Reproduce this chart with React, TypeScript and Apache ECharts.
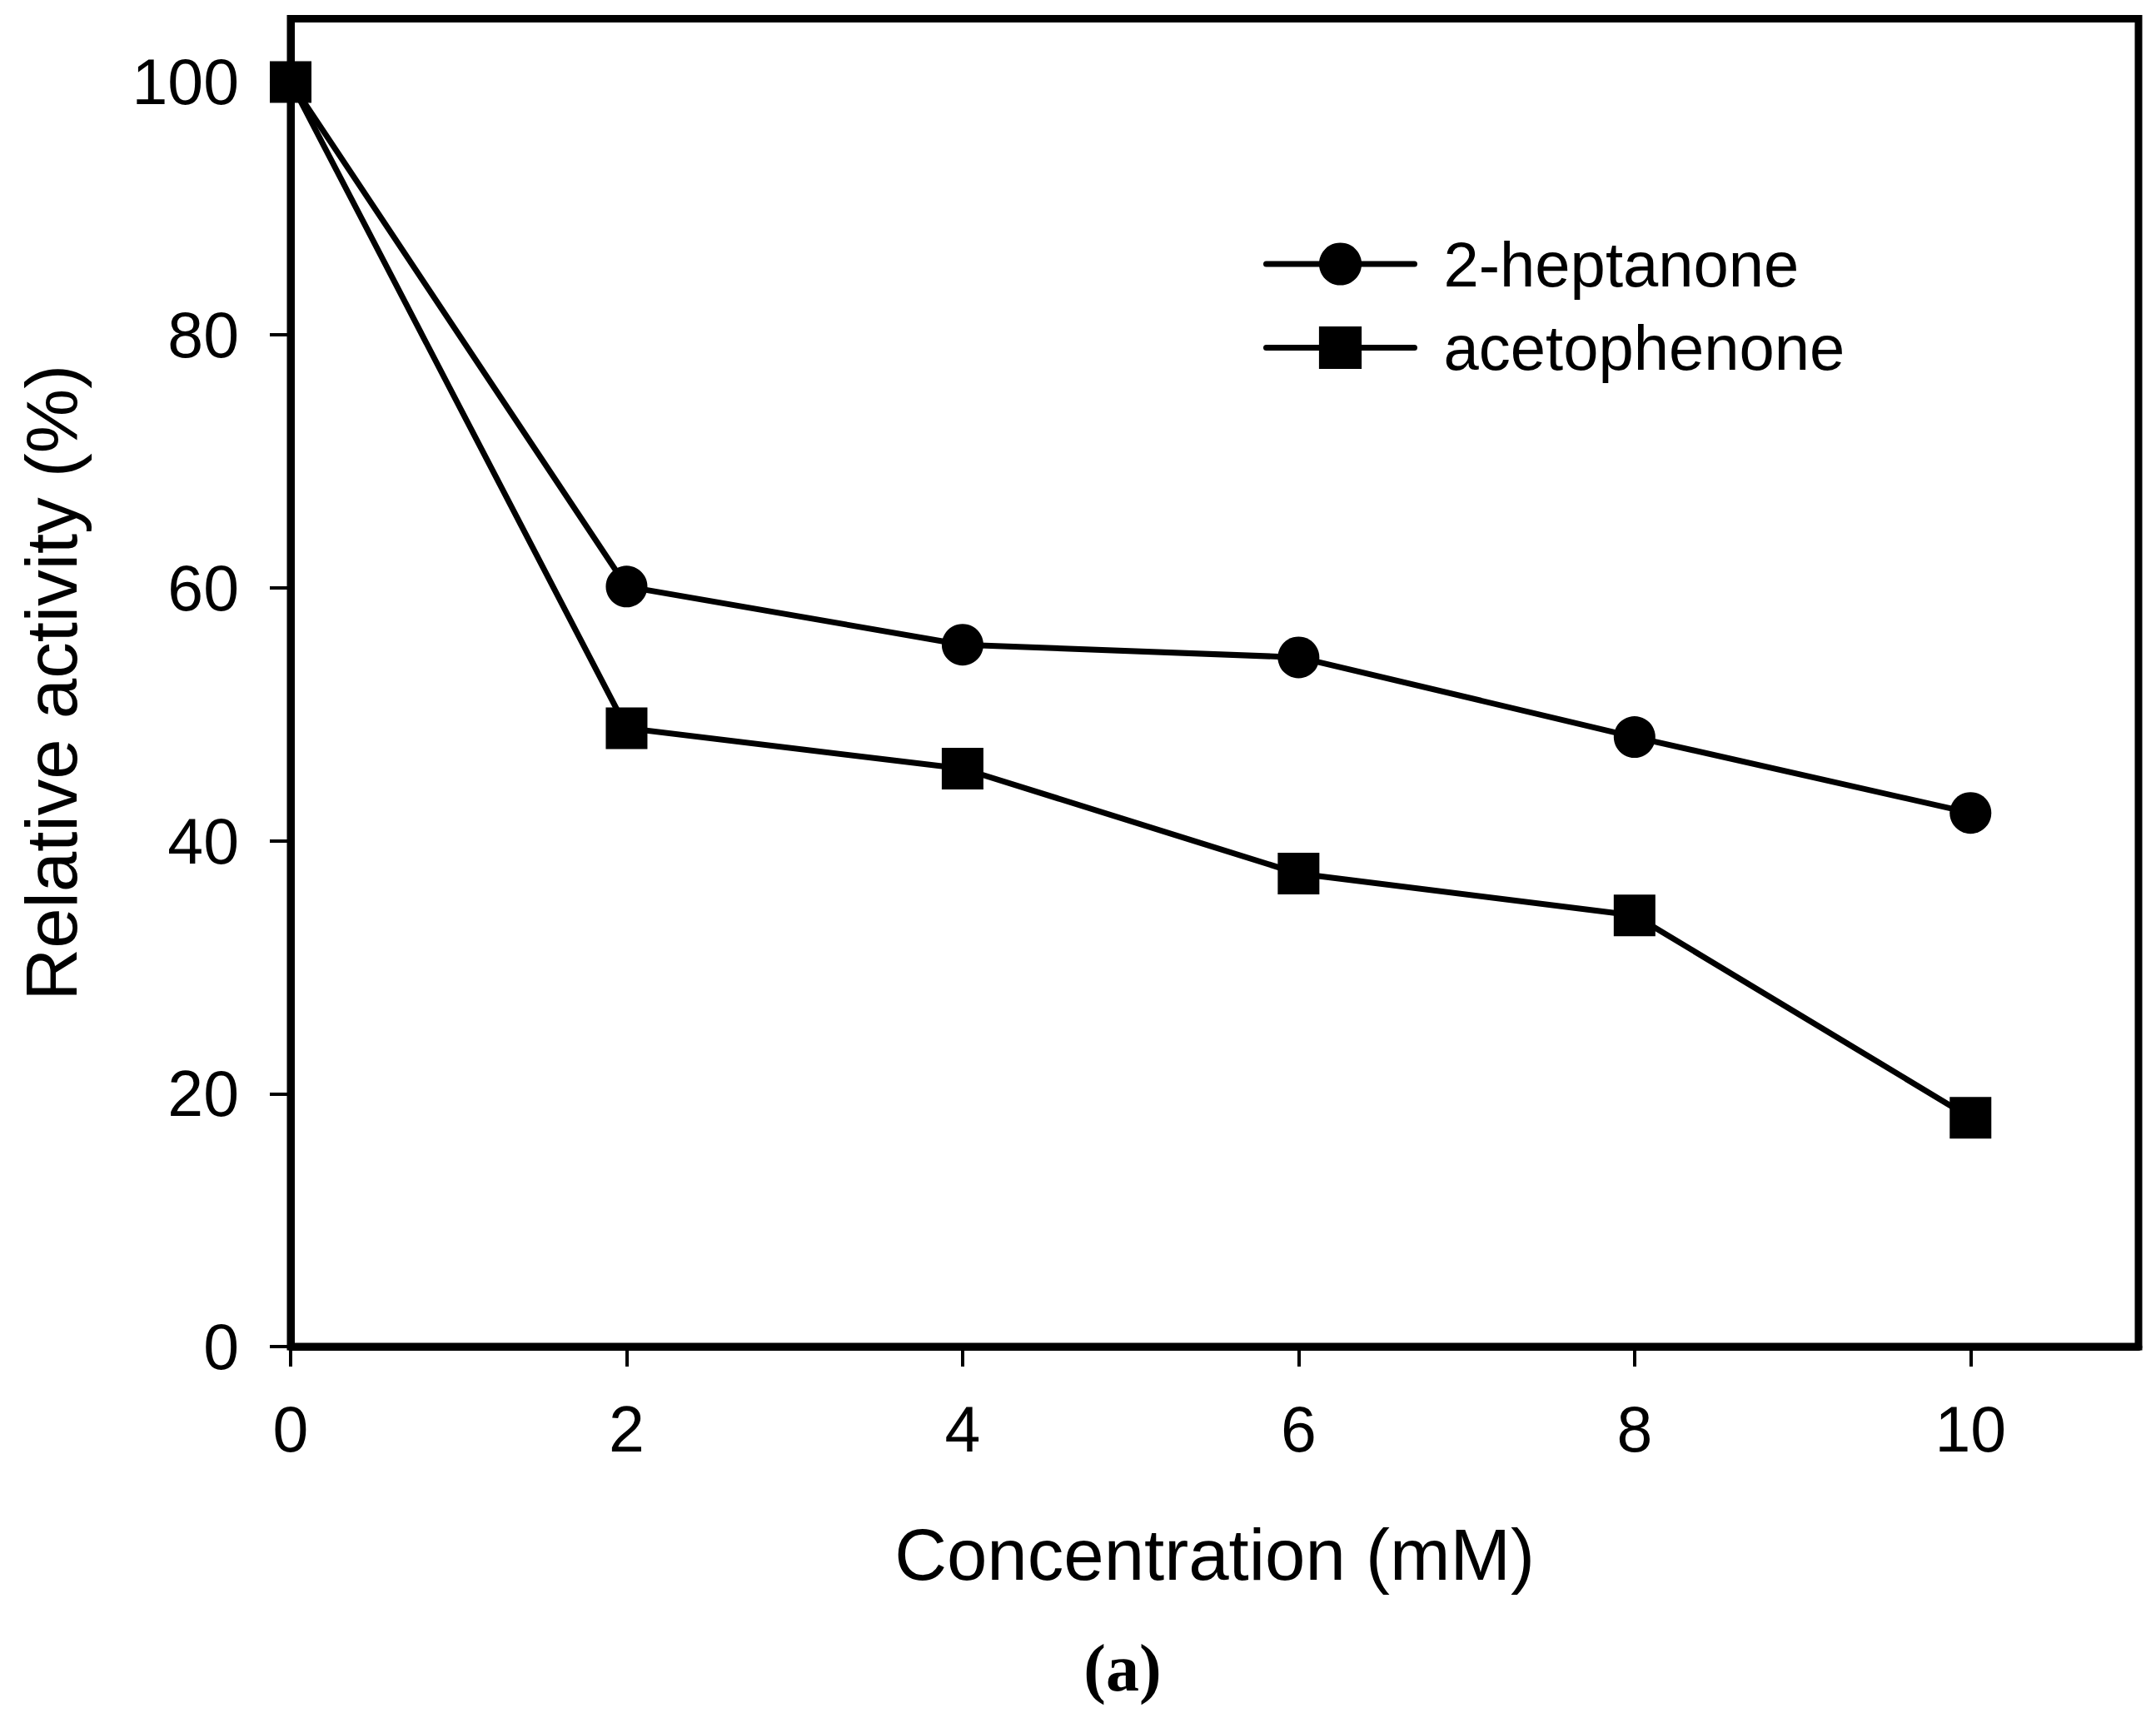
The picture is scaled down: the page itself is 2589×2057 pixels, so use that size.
import React, { useEffect, useRef } from "react";
import * as echarts from "echarts";

const concentrations = [0, 2, 4, 6, 8, 10];
const heptanone = [100, 60.1, 55.5, 54.5, 48.2, 42.2];
const acetophenone = [100, 48.9, 45.7, 37.4, 34.1, 18.1];
const seriesNames = ["2-heptanone", "acetophenone"];
const xTicks = [0, 2, 4, 6, 8, 10];
const yTicks = [0, 20, 40, 60, 80, 100];

const SANS = "'Liberation Sans', Arial, sans-serif";

export default function App() {
  const ref = useRef<HTMLDivElement>(null);
  useEffect(() => {
    if (!ref.current) return;
    const chart = echarts.init(ref.current, null, { renderer: "svg" });
    const toPairs = (ys: number[]) => concentrations.map((x, i) => [x, ys[i]]);
    chart.setOption({
      animation: false,
      backgroundColor: "#ffffff",
      textStyle: { fontFamily: SANS, color: "#000" },
      grid: {
        left: 349,
        top: 22.5,
        right: 21,
        bottom: 440,
        show: true,
        borderColor: "#000",
        borderWidth: 9,
        backgroundColor: "transparent",
      },
      title: {
        text: "(a)",
        left: 1343,
        top: 1958,
        textAlign: "center",
        textStyle: {
          fontFamily: "'Liberation Serif', 'Times New Roman', serif",
          fontWeight: "bold",
          fontSize: 80,
          color: "#000",
        },
      },
      legend: {
        orient: "vertical",
        left: 1512,
        top: 274,
        itemWidth: 178,
        itemHeight: 64,
        itemGap: 24.5,
        data: seriesNames,
        lineStyle: { width: 7, cap: "round", color: "#000" },
        textStyle: {
          fontFamily: SANS,
          fontSize: 76,
          color: "#000",
          padding: [0, 0, 0, 30],
        },
      },
      xAxis: {
        type: "value",
        min: 0,
        max: 11,
        interval: 2,
        name: "Concentration (mM)",
        nameLocation: "middle",
        nameGap: 206,
        nameTextStyle: { fontFamily: SANS, fontSize: 87, color: "#000" },
        splitLine: { show: false },
        axisLine: { show: true, lineStyle: { color: "#000", width: 9 } },
        axisTick: {
          show: true,
          inside: false,
          length: 24,
          customValues: xTicks,
          lineStyle: { color: "#000", width: 4 },
        },
        axisLabel: {
          customValues: xTicks,
          margin: 60,
          fontFamily: SANS,
          fontSize: 77,
          color: "#000",
        },
      },
      yAxis: {
        type: "value",
        min: 0,
        max: 105,
        interval: 20,
        name: "Relative activity (%)",
        nameLocation: "middle",
        nameGap: 244,
        nameTextStyle: { fontFamily: SANS, fontSize: 87, color: "#000" },
        splitLine: { show: false },
        axisLine: { show: true, lineStyle: { color: "#000", width: 9 } },
        axisTick: {
          show: true,
          inside: false,
          length: 25,
          customValues: yTicks,
          lineStyle: { color: "#000", width: 4 },
        },
        axisLabel: {
          customValues: yTicks,
          margin: 62,
          fontFamily: SANS,
          fontSize: 77,
          color: "#000",
        },
      },
      series: [
        {
          name: seriesNames[0],
          type: "line",
          data: toPairs(heptanone),
          symbol: "circle",
          symbolSize: 50,
          clip: false,
          lineStyle: { color: "#000", width: 7 },
          itemStyle: { color: "#000" },
        },
        {
          name: seriesNames[1],
          type: "line",
          data: toPairs(acetophenone),
          symbol: "rect",
          symbolSize: 50,
          clip: false,
          lineStyle: { color: "#000", width: 7 },
          itemStyle: { color: "#000" },
        },
      ],
    });
    return () => chart.dispose();
  }, []);
  return (
    <div
      ref={ref}
      style={{ position: "fixed", left: 0, top: 0, width: 2589, height: 2057, background: "#fff" }}
    />
  );
}
